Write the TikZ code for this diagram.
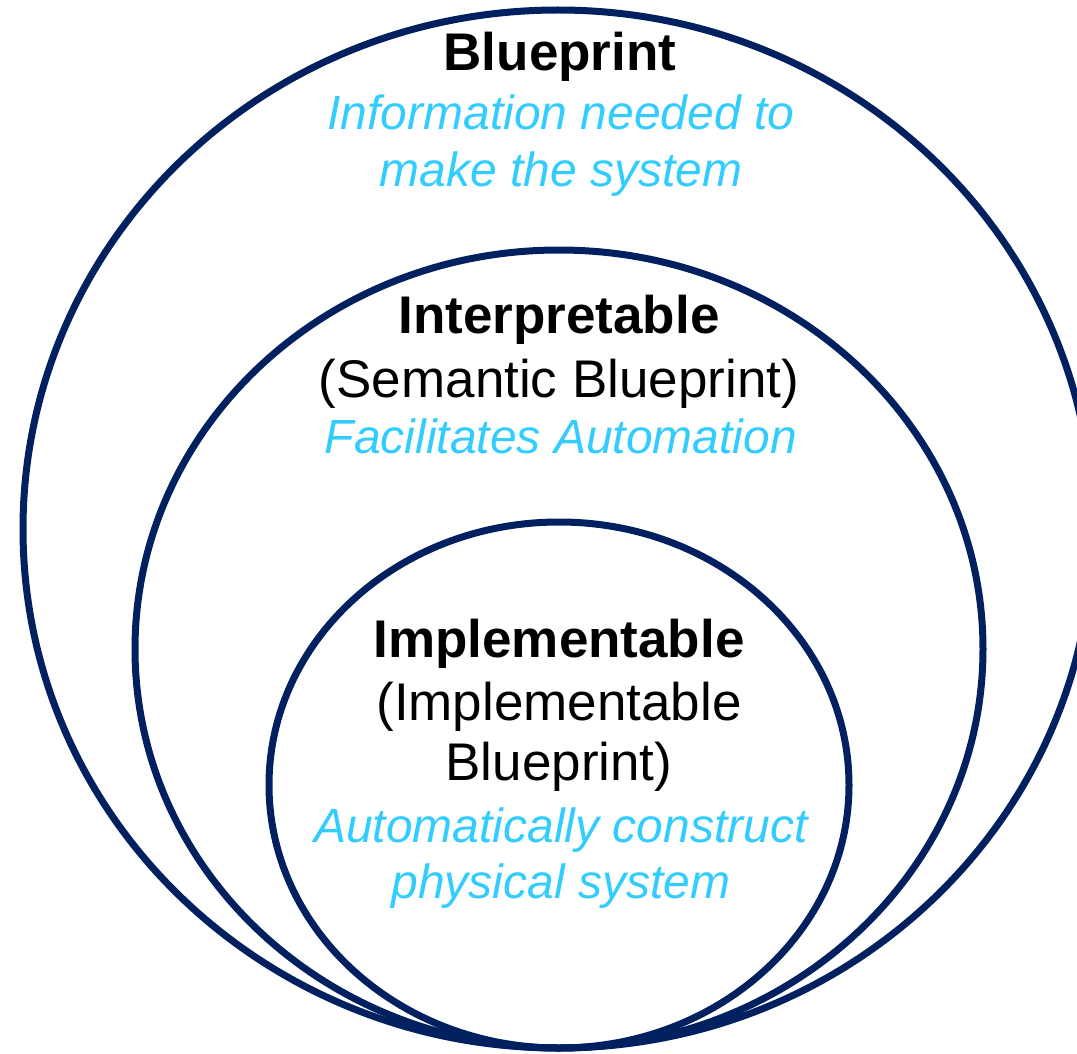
\documentclass[tikz,border=0pt]{standalone}
\usepackage{fontspec}
\setmainfont{Liberation Sans}
\definecolor{navy}{HTML}{002060}
\definecolor{sky}{HTML}{33CCFF}
\begin{document}
\begin{tikzpicture}[x=1pt,y=-1pt,
  ring/.style={draw=navy,line width=7pt},
  head/.style={anchor=base,inner sep=0pt,font=\fontsize{53}{60}\selectfont\bfseries},
  sub/.style={anchor=base,inner sep=0pt,font=\fontsize{53}{60}\selectfont},
  note/.style={anchor=base,inner sep=0pt,text=sky,font=\fontsize{48}{57}\selectfont\itshape}]
\useasboundingbox (0,0) rectangle (1077,1054);
\begin{scope}
\clip (0,0) rectangle (1077,1054);
\draw[ring] (558,529) ellipse [x radius=535, y radius=519];
\draw[ring] (559,649) ellipse [x radius=424, y radius=399];
\draw[ring] (559,785) ellipse [x radius=290, y radius=263];
\end{scope}
\node[head] (bp) at (560,71) {Blueprint};
\node[note] (bp1) at (561,130) {Information needed to};
\node[note] (bp2) at (561,187) {make the system};
\node[head] (ip) at (559,333) {Interpretable};
\node[sub] (ip1) at (559,397) {(Semantic Blueprint)};
\node[note] (ip2) at (561,453) {Facilitates Automation};
\node[head] (im) at (559,657) {Implementable};
\node[sub] (im1) at (559,720) {(Implementable};
\node[sub] (im2) at (559,780) {Blueprint)};
\node[note] (im3) at (561,842) {Automatically construct};
\node[note] (im4) at (561,898) {physical system};
\end{tikzpicture}
\end{document}
